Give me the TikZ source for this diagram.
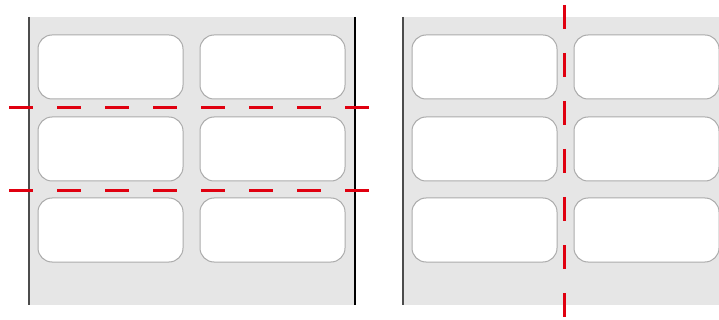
\documentclass[tikz,border=0pt]{standalone}
\usetikzlibrary{positioning}
\definecolor{sheetgray}{HTML}{E6E6E6}
\definecolor{edgegray}{HTML}{ABABAB}
\definecolor{cutred}{HTML}{E00010}
\tikzset{
  label/.style={draw=edgegray, line width=1pt, fill=white, rounded corners=14pt,
    minimum width=145pt, minimum height=64pt, inner sep=0pt},
  cut/.style={draw=cutred, line width=3pt, dash pattern=on 24pt off 24pt}
}
\begin{document}
\begin{tikzpicture}[x=1pt,y=-1pt]
  \useasboundingbox (0,0) rectangle (719,320);
  % left sheet, cut across
  \fill[sheetgray] (29,17) rectangle (355,305);
  \draw[line width=2.5pt, black!70] (29,17) -- (29,305);
  \draw[line width=1.5pt] (355,17) -- (355,305);
  \node[label] (a1) at (110.5,67) {};
  \node[label] (a2) at (272.5,67) {};
  \node[label] (b1) at (110.5,149) {};
  \node[label] (b2) at (272.5,149) {};
  \node[label] (c1) at (110.5,230) {};
  \node[label] (c2) at (272.5,230) {};
  \draw[cut] (9,108) -- (370,108);
  \draw[cut] (9,191) -- (370,191);
  % right sheet, cut down
  \fill[sheetgray] (403,17) rectangle (719,305);
  \draw[line width=2.5pt, black!70] (403,17) -- (403,305);
  \node[label] (d1) at (484.5,67) {};
  \node[label] (d2) at (646.5,67) {};
  \node[label] (e1) at (484.5,149) {};
  \node[label] (e2) at (646.5,149) {};
  \node[label] (f1) at (484.5,230) {};
  \node[label] (f2) at (646.5,230) {};
  \draw[cut] (564,5) -- (564,318);
\end{tikzpicture}
\end{document}
